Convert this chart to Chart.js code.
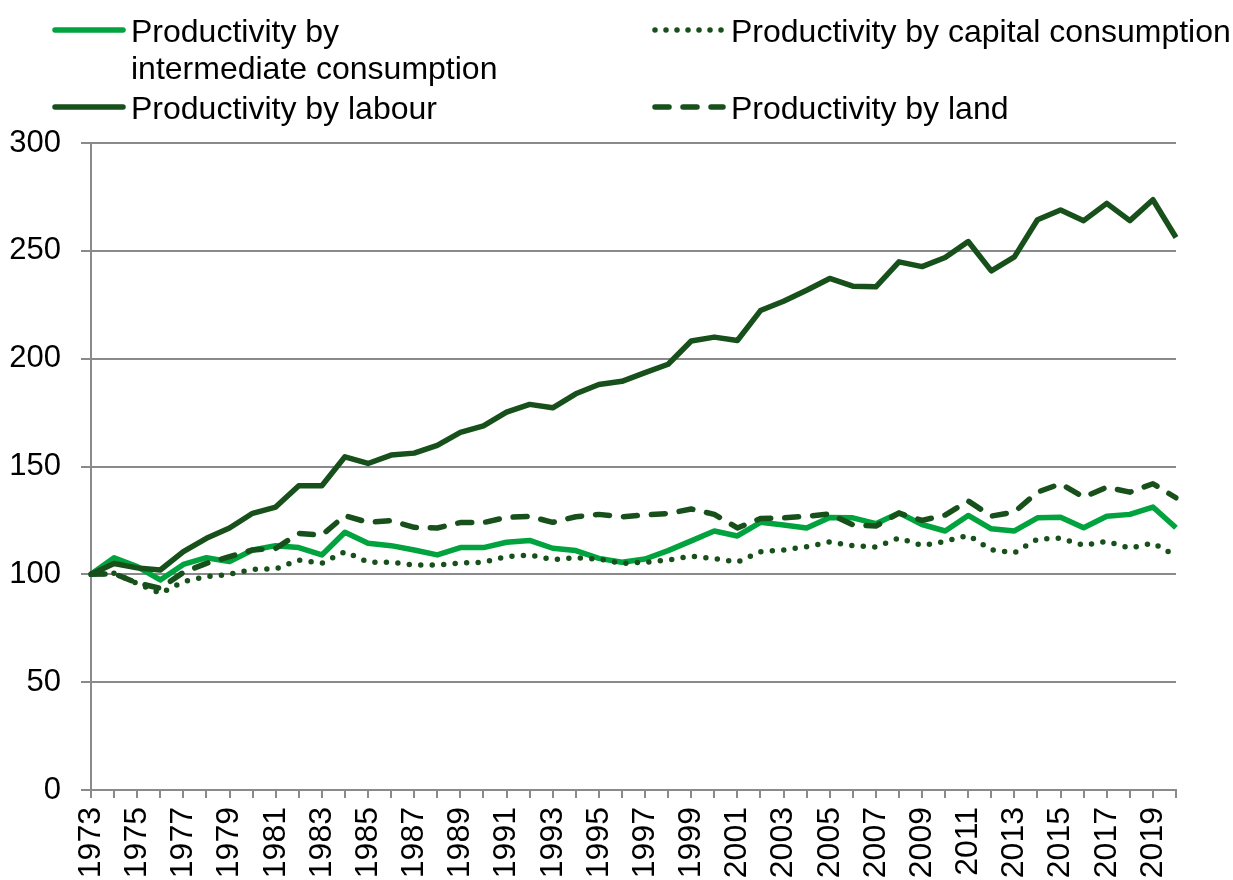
<!DOCTYPE html>
<html>
<head>
<meta charset="utf-8">
<script src="https://cdn.jsdelivr.net/npm/chart.js@4.4.1/dist/chart.umd.min.js"></script>
<style>
  html, body { margin: 0; padding: 0; background: #fff; }
  #wrap { width: 1233px; height: 880px; position: relative; }
</style>
</head>
<body>
<div id="wrap"><canvas id="prodChart"></canvas></div>
<script>
/* ================= DATA ================= */
const years = [
    "1973","1974","1975","1976","1977","1978","1979","1980","1981","1982",
    "1983","1984","1985","1986","1987","1988","1989","1990","1991","1992",
    "1993","1994","1995","1996","1997","1998","1999","2000","2001","2002",
    "2003","2004","2005","2006","2007","2008","2009","2010","2011","2012",
    "2013","2014","2015","2016","2017","2018","2019","2020"
];

const intermediate = [
    100, 107.7, 103.6, 97.4, 104.6, 107.7, 105.9, 111.3, 113.3, 112.4,
    109, 119.5, 114.4, 113.3, 111.3, 109, 112.4, 112.4, 114.9, 115.7,
    112.1, 111, 107.4, 105.6, 107.1, 111, 115.5, 120.1, 117.8, 124.1,
    122.9, 121.5, 126.4, 126.2, 123.5, 128.5, 123.1, 120.1, 127.3, 121.1,
    120.1, 126.2, 126.5, 121.6, 126.9, 127.8, 131.2, 121.6
];

const capital = [
    100, 100.5, 95.8, 91.2, 96.6, 98.9, 100, 102.3, 102.5, 106.6,
    105.1, 110.5, 105.6, 105.6, 104.3, 104.3, 105.3, 105.6, 108.2, 109,
    106.8, 107.7, 107.1, 105.1, 105.6, 106.6, 108.4, 107.3, 105.7, 110.5,
    111.3, 112.8, 115, 113.3, 112.7, 116.8, 113.4, 115.3, 118.1, 111.4,
    110, 116.3, 116.8, 113.4, 115.3, 112.2, 114.5, 108.5
];

const labour = [
    100, 105, 103, 102, 110.5, 116.7, 121.5, 128.3, 131.2, 141.1,
    141.1, 154.5, 151.4, 155.3, 156.2, 159.8, 165.8, 168.8, 175.2, 178.8,
    177.2, 183.7, 188, 189.5, 193.5, 197.4, 208.2, 210, 208.4, 222.3,
    226.6, 231.7, 237.2, 233.6, 233.3, 244.9, 242.7, 246.9, 254.3, 240.7,
    247.2, 264.4, 268.9, 264, 272, 264, 273.7, 256.2
];

const land = [
    100, 100.3, 96, 93.5, 100.9, 105.1, 108.2, 111.3, 112, 119,
    118.2, 127.2, 124.1, 124.9, 121.8, 121.5, 124, 124, 126.4, 126.9,
    124.1, 126.7, 127.8, 126.7, 127.5, 128.2, 130.3, 127.8, 121.5, 125.9,
    126.2, 126.9, 128, 123, 122.4, 128.4, 125, 127.5, 134, 127,
    128.9, 138.1, 142, 135.8, 140.4, 138.1, 142, 135.5
];

const yTicks = [0, 50, 100, 150, 200, 250, 300];

/* ================= STYLE ================= */
const FONT = "'Liberation Sans', Arial, sans-serif";
const LIGHT_GREEN = "#00a33d";
const DARK_GREEN = "#17501a";
const AXIS_GREY = "#8a8a8a";

/* ================= LEGEND (drawn on canvas) ================= */
const legendItems = [
    { lines: ["Productivity by", "intermediate consumption"], color: LIGHT_GREEN, dash: [], col: 0, row: 0 },
    { lines: ["Productivity by capital consumption"], color: DARK_GREEN, dash: [0, 11], col: 1, row: 0 },
    { lines: ["Productivity by labour"], color: DARK_GREEN, dash: [], col: 0, row: 1 },
    { lines: ["Productivity by land"], color: DARK_GREEN, dash: [14, 14], col: 1, row: 1 }
];

const topLegend = {
    id: "topLegend",
    afterDraw(chart) {
        const ctx = chart.ctx;
        const colX = [52, 652];
        const rowY = [30, 107];
        ctx.save();
        legendItems.forEach(item => {
            const x0 = colX[item.col];
            const y = rowY[item.row];
            ctx.beginPath();
            ctx.strokeStyle = item.color;
            ctx.lineWidth = 5.5;
            ctx.lineCap = "round";
            ctx.setLineDash(item.dash);
            ctx.moveTo(x0 + 3, y);
            ctx.lineTo(x0 + 71, y);
            ctx.stroke();

            ctx.setLineDash([]);
            ctx.fillStyle = "#000";
            ctx.font = "32px " + FONT;
            ctx.textBaseline = "alphabetic";
            ctx.textAlign = "left";
            item.lines.forEach((t, i) => {
                ctx.fillText(t, x0 + 79, y + 12 + i * 37);
            });
        });
        ctx.restore();
    }
};

/* ================= CHART ================= */
const ctx = document.getElementById("prodChart");

new Chart(ctx, {
    type: "line",
    data: {
        labels: years,
        datasets: [
            {
                label: "Productivity by intermediate consumption",
                data: intermediate,
                borderColor: LIGHT_GREEN,
                borderWidth: 5.5,
                order: 3
            },
            {
                label: "Productivity by capital consumption",
                data: capital,
                borderColor: DARK_GREEN,
                borderWidth: 5.5,
                borderDash: [0, 11.5],
                borderCapStyle: "round",
                order: 2
            },
            {
                label: "Productivity by labour",
                data: labour,
                borderColor: DARK_GREEN,
                borderWidth: 5.5,
                order: 1
            },
            {
                label: "Productivity by land",
                data: land,
                borderColor: DARK_GREEN,
                borderWidth: 5.5,
                borderDash: [14, 14],
                borderCapStyle: "round",
                order: 0
            }
        ]
    },
    options: {
        responsive: true,
        maintainAspectRatio: false,
        animation: false,
        layout: { padding: { top: 143, right: 57, left: 0, bottom: 0 } },
        elements: {
            point: { radius: 0, hoverRadius: 0 },
            line: { tension: 0, fill: false, borderJoinStyle: "round" }
        },
        plugins: {
            legend: { display: false },
            tooltip: { enabled: false }
        },
        scales: {
            x: {
                offset: false,
                afterFit: scale => { scale.height = 90; },
                border: { display: true, color: AXIS_GREY, width: 2 },
                grid: {
                    drawOnChartArea: false,
                    drawTicks: true,
                    tickLength: 8,
                    color: AXIS_GREY,
                    lineWidth: 2
                },
                ticks: {
                    autoSkip: false,
                    maxRotation: 90,
                    minRotation: 90,
                    padding: 9,
                    color: "#000",
                    font: { family: FONT, size: 32 },
                    callback: (val, idx) => idx % 2 === 0 ? years[idx] : ""
                }
            },
            y: {
                min: 0,
                max: 300,
                afterFit: scale => { scale.width = 91; },
                afterBuildTicks: scale => {
                    scale.ticks = yTicks.map(v => ({ value: v }));
                },
                border: { display: true, color: AXIS_GREY, width: 2 },
                grid: {
                    color: AXIS_GREY,
                    lineWidth: 2,
                    drawTicks: true,
                    tickLength: 10
                },
                ticks: {
                    padding: 20,
                    color: "#000",
                    font: { family: FONT, size: 31 }
                }
            }
        }
    },
    plugins: [topLegend]
});
</script>
</body>
</html>
